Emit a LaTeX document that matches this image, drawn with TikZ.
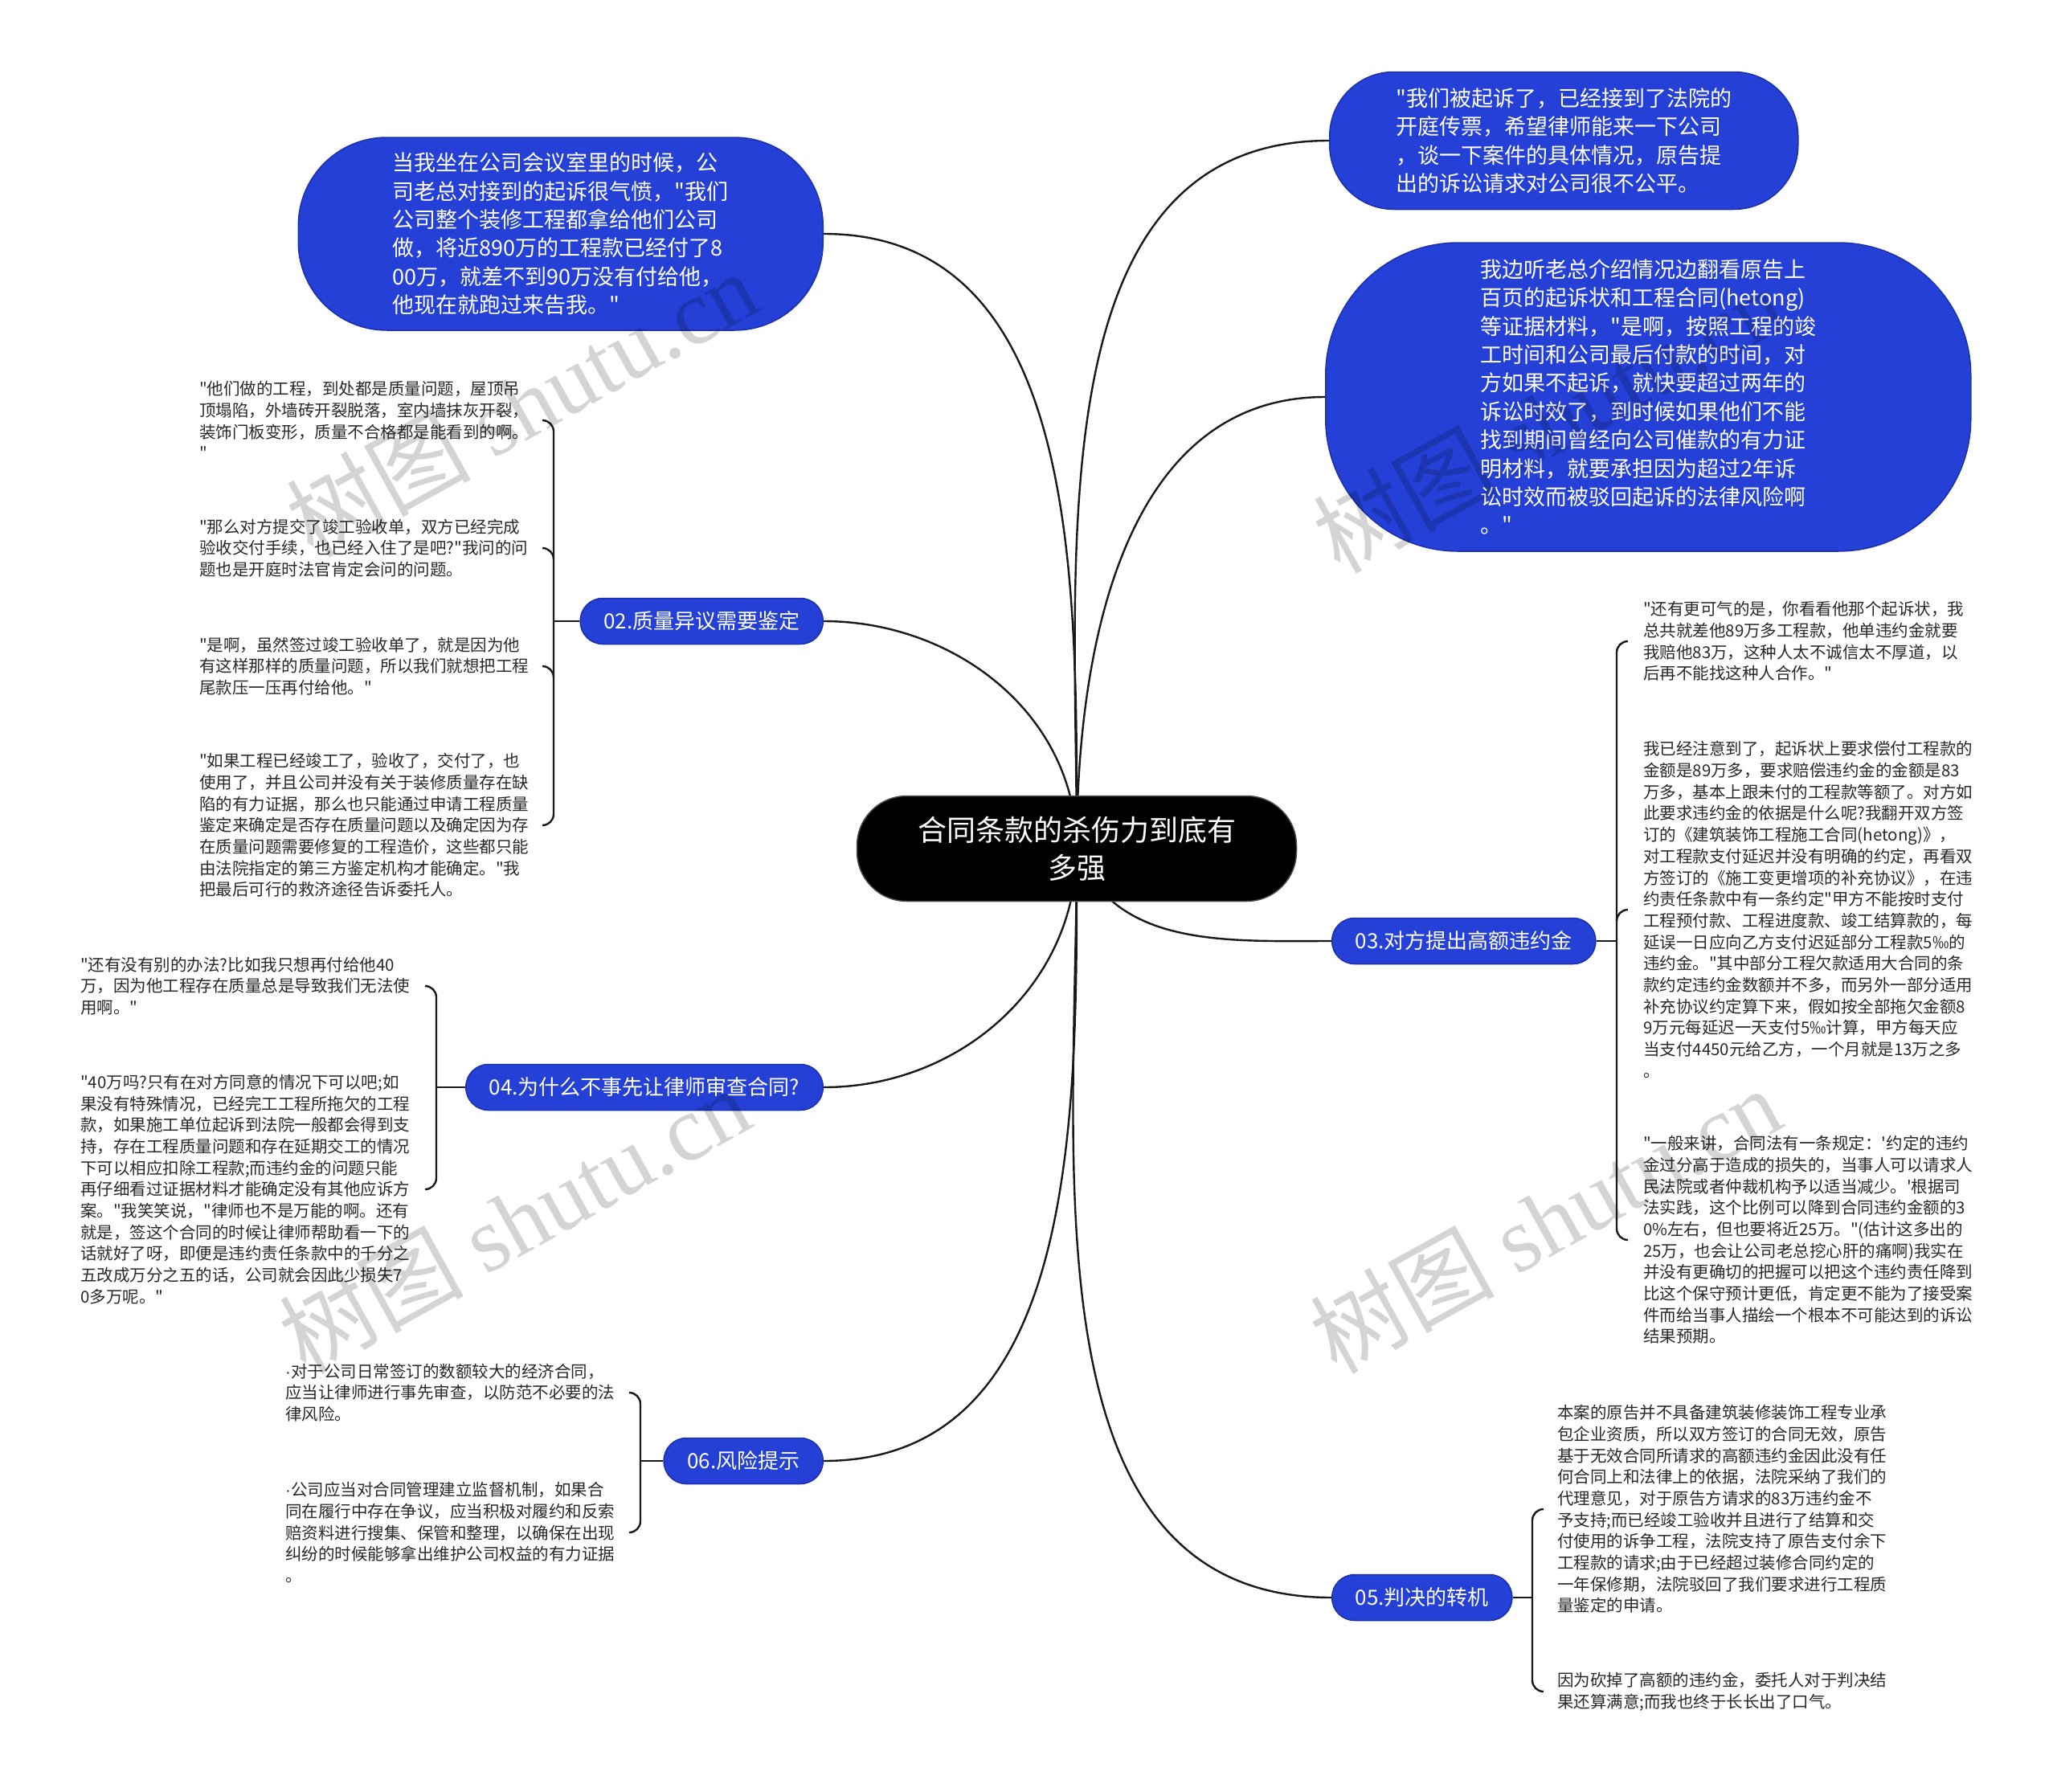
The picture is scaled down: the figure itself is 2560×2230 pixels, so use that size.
\documentclass[tikz,border=0pt]{standalone}
\usepackage{fontspec}
\newfontfamily\cjk{Noto Sans CJK SC}
\newfontfamily\wmserif{Liberation Serif}
\newfontfamily\latinsans{Liberation Sans}
\usetikzlibrary{calc}
\definecolor{nodeblue}{RGB}{36,64,214}
\definecolor{nodeedge}{RGB}{28,48,170}
\definecolor{leafgray}{RGB}{40,40,40}
\pgfdeclarelayer{bg}
\pgfdeclarelayer{fg}
\pgfsetlayers{bg,main,fg}
\begin{document}
\begin{tikzpicture}[x=1pt,y=1pt,
  link/.style={draw=black!90, line width=2.4pt},
  bubble/.style={fill=nodeblue, draw=nodeedge, line width=1.5pt, text=white, align=left,
    font=\cjk\fontsize{27pt}{35.4pt}\selectfont, inner sep=0pt},
  branch/.style={fill=nodeblue, draw=nodeedge, line width=1.5pt, text=white,
    font=\cjk\fontsize{26pt}{32pt}\selectfont, minimum height=57pt, rounded corners=28pt,
    inner xsep=29pt, inner ysep=0pt},
  rootbox/.style={fill=black, draw=black!70, line width=1.5pt, text=white, align=center,
    font=\cjk\fontsize{36pt}{47pt}\selectfont, minimum width=547pt, minimum height=131pt,
    rounded corners=62pt, inner sep=0pt},
  leaf/.style={anchor=west, align=left, inner sep=0pt, text=leafgray,
    font=\cjk\fontsize{20.5pt}{26.7pt}\selectfont},
  wm/.style={text=black, opacity=0.17, rotate=29, inner sep=0pt,
    font=\cjk\fontsize{115pt}{115pt}\selectfont}
]
\useasboundingbox (0,0) rectangle (2560,-2230);
\begin{pgfonlayer}{bg}
\fill[white] (0,0) rectangle (2560,-2230);
\end{pgfonlayer}

% root
\node[rootbox] (root) at (1340,-1056) {合同条款的杀伤力到底有\\多强};

% big bubbles
\node[bubble, anchor=east, minimum width=653pt, minimum height=240pt, rounded corners=110pt] (b1) at (1025,-291)
 {当我坐在公司会议室里的时候，公\\司老总对接到的起诉很气愤，"我们\\公司整个装修工程都拿给他们公司\\做，将近890万的工程款已经付了8\\00万，就差不到90万没有付给他，\\他现在就跑过来告我。"};
\node[bubble, anchor=west, minimum width=583pt, minimum height=171pt, rounded corners=80pt] (b2) at (1654,-175)
 {"我们被起诉了，已经接到了法院的\\开庭传票，希望律师能来一下公司\\，谈一下案件的具体情况，原告提\\出的诉讼请求对公司很不公平。};
\node[bubble, anchor=west, minimum width=803pt, minimum height=384pt, rounded corners=165pt] (b3) at (1649,-494)
 {我边听老总介绍情况边翻看原告上\\百页的起诉状和工程合同(hetong)\\等证据材料，"是啊，按照工程的竣\\工时间和公司最后付款的时间，对\\方如果不起诉，就快要超过两年的\\诉讼时效了，到时候如果他们不能\\找到期间曾经向公司催款的有力证\\明材料，就要承担因为超过2年诉\\讼时效而被驳回起诉的法律风险啊\\。"};

% branch nodes
\node[branch, anchor=east] (n02) at (1025,-773) {02.质量异议需要鉴定};
\node[branch, anchor=east] (n04) at (1025,-1353) {04.为什么不事先让律师审查合同?};
\node[branch, anchor=east] (n06) at (1025,-1818) {06.风险提示};
\node[branch, anchor=west] (n03) at (1657,-1171) {03.对方提出高额违约金};
\node[branch, anchor=west] (n05) at (1657,-1988) {05.判决的转机};

% leaves of 02
\node[leaf] (l21) at (248,-523) {"他们做的工程，到处都是质量问题，屋顶吊\\顶塌陷，外墙砖开裂脱落，室内墙抹灰开裂，\\装饰门板变形，质量不合格都是能看到的啊。\\"};
\node[leaf] (l22) at (248,-682) {"那么对方提交了竣工验收单，双方已经完成\\验收交付手续，也已经入住了是吧?"我问的问\\题也是开庭时法官肯定会问的问题。};
\node[leaf] (l23) at (248,-829) {"是啊，虽然签过竣工验收单了，就是因为他\\有这样那样的质量问题，所以我们就想把工程\\尾款压一压再付给他。"};
\node[leaf] (l24) at (248,-1027) {"如果工程已经竣工了，验收了，交付了，也\\使用了，并且公司并没有关于装修质量存在缺\\陷的有力证据，那么也只能通过申请工程质量\\鉴定来确定是否存在质量问题以及确定因为存\\在质量问题需要修复的工程造价，这些都只能\\由法院指定的第三方鉴定机构才能确定。"我\\把最后可行的救济途径告诉委托人。};

% leaves of 04
\node[leaf] (l41) at (100,-1227) {"还有没有别的办法?比如我只想再付给他40\\万，因为他工程存在质量总是导致我们无法使\\用啊。"};
\node[leaf] (l42) at (100,-1480) {"40万吗?只有在对方同意的情况下可以吧;如\\果没有特殊情况，已经完工工程所拖欠的工程\\款，如果施工单位起诉到法院一般都会得到支\\持，存在工程质量问题和存在延期交工的情况\\下可以相应扣除工程款;而违约金的问题只能\\再仔细看过证据材料才能确定没有其他应诉方\\案。"我笑笑说，"律师也不是万能的啊。还有\\就是，签这个合同的时候让律师帮助看一下的\\话就好了呀，即便是违约责任条款中的千分之\\五改成万分之五的话，公司就会因此少损失7\\0多万呢。"};

% leaves of 06
\node[leaf] (l61) at (355,-1733) {{\latinsans ·}对于公司日常签订的数额较大的经济合同，\\应当让律师进行事先审查，以防范不必要的法\\律风险。};
\node[leaf] (l62) at (355,-1907) {{\latinsans ·}公司应当对合同管理建立监督机制，如果合\\同在履行中存在争议，应当积极对履约和反索\\赔资料进行搜集、保管和整理，以确保在出现\\纠纷的时候能够拿出维护公司权益的有力证据\\。};

% leaves of 03
\node[leaf] (l31) at (2045,-798) {"还有更可气的是，你看看他那个起诉状，我\\总共就差他89万多工程款，他单违约金就要\\我赔他83万，这种人太不诚信太不厚道，以\\后再不能找这种人合作。"};
\node[leaf] (l32) at (2045,-1132) {我已经注意到了，起诉状上要求偿付工程款的\\金额是89万多，要求赔偿违约金的金额是83\\万多，基本上跟未付的工程款等额了。对方如\\此要求违约金的依据是什么呢?我翻开双方签\\订的《建筑装饰工程施工合同(hetong)》，\\对工程款支付延迟并没有明确的约定，再看双\\方签订的《施工变更增项的补充协议》，在违\\约责任条款中有一条约定"甲方不能按时支付\\工程预付款、工程进度款、竣工结算款的，每\\延误一日应向乙方支付迟延部分工程款5‰的\\违约金。"其中部分工程欠款适用大合同的条\\款约定违约金数额并不多，而另外一部分适用\\补充协议约定算下来，假如按全部拖欠金额8\\9万元每延迟一天支付5‰计算，甲方每天应\\当支付4450元给乙方，一个月就是13万之多\\。};
\node[leaf] (l33) at (2045,-1543) {"一般来讲，合同法有一条规定：'约定的违约\\金过分高于造成的损失的，当事人可以请求人\\民法院或者仲裁机构予以适当减少。'根据司\\法实践，这个比例可以降到合同违约金额的3\\0\%左右，但也要将近25万。"(估计这多出的\\25万，也会让公司老总挖心肝的痛啊)我实在\\并没有更确切的把握可以把这个违约责任降到\\比这个保守预计更低，肯定更不能为了接受案\\件而给当事人描绘一个根本不可能达到的诉讼\\结果预期。};

% leaves of 05
\node[leaf] (l51) at (1938,-1878) {本案的原告并不具备建筑装修装饰工程专业承\\包企业资质，所以双方签订的合同无效，原告\\基于无效合同所请求的高额违约金因此没有任\\何合同上和法律上的依据，法院采纳了我们的\\代理意见，对于原告方请求的83万违约金不\\予支持;而已经竣工验收并且进行了结算和交\\付使用的诉争工程，法院支持了原告支付余下\\工程款的请求;由于已经超过装修合同约定的\\一年保修期，法院驳回了我们要求进行工程质\\量鉴定的申请。};
\node[leaf] (l52) at (1938,-2105) {因为砍掉了高额的违约金，委托人对于判决结\\果还算满意;而我也终于长长出了口气。};

% bracket spine coordinates
\coordinate (k02) at (689,-773);
\coordinate (k04) at (543,-1353);
\coordinate (k06) at (797,-1818);
\coordinate (k03) at (2012,-1171);
\coordinate (k05) at (1907,-1988);

\begin{pgfonlayer}{bg}
% main connectors
\draw[link] (root.center) to[out=90,in=0] (b1.east);
\draw[link] (root.center) to[out=90,in=0] (n02.east);
\draw[link] (root.center) to[out=90,in=180] (b2.west);
\draw[link] (root.center) to[out=90,in=180] (b3.west);
\draw[link] (root.center) to[out=-70,in=180] (n03.west);
\draw[link] (root.center) to[out=-90,in=0] (n04.east);
\draw[link] (root.center) to[out=-90,in=0] (n06.east);
\draw[link] (root.center) to[out=-90,in=180] (n05.west);

% bracket 02 (left)
\draw[link] (n02.west) -- (k02);
\draw[link] ($(k02|-l21.west)+(-14,0)$) to[out=0,in=90] ($(k02|-l21.west)+(0,-14)$)
  -- ($(k02|-l24.west)+(0,14)$) to[out=-90,in=0] ($(k02|-l24.west)+(-14,0)$);
\draw[link] ($(k02|-l22.west)+(0,-14)$) to[out=90,in=0] ($(k02|-l22.west)+(-14,0)$);
\draw[link] ($(k02|-l23.west)+(0,-14)$) to[out=90,in=0] ($(k02|-l23.west)+(-14,0)$);

% bracket 04 (left)
\draw[link] (n04.west) -- (k04);
\draw[link] ($(k04|-l41.west)+(-14,0)$) to[out=0,in=90] ($(k04|-l41.west)+(0,-14)$)
  -- ($(k04|-l42.west)+(0,14)$) to[out=-90,in=0] ($(k04|-l42.west)+(-14,0)$);

% bracket 06 (left)
\draw[link] (n06.west) -- (k06);
\draw[link] ($(k06|-l61.west)+(-14,0)$) to[out=0,in=90] ($(k06|-l61.west)+(0,-14)$)
  -- ($(k06|-l62.west)+(0,14)$) to[out=-90,in=0] ($(k06|-l62.west)+(-14,0)$);

% bracket 03 (right)
\draw[link] (n03.east) -- (k03);
\draw[link] ($(k03|-l31.west)+(14,0)$) to[out=180,in=90] ($(k03|-l31.west)+(0,-14)$)
  -- ($(k03|-l33.west)+(0,14)$) to[out=-90,in=180] ($(k03|-l33.west)+(14,0)$);
\draw[link] ($(k03|-l32.west)+(0,-14)$) to[out=90,in=180] ($(k03|-l32.west)+(14,0)$);

% bracket 05 (right)
\draw[link] (n05.east) -- (k05);
\draw[link] ($(k05|-l51.west)+(14,0)$) to[out=180,in=90] ($(k05|-l51.west)+(0,-14)$)
  -- ($(k05|-l52.west)+(0,14)$) to[out=-90,in=180] ($(k05|-l52.west)+(14,0)$);
\end{pgfonlayer}

% watermarks
\begin{pgfonlayer}{fg}
\node[wm] (w1) at (649,-502) {树图 {\wmserif shutu.cn}};
\node[wm] (w2) at (640,-1518) {树图 {\wmserif shutu.cn}};
\node[wm] (w3) at (1927,-522) {树图 {\wmserif shutu.cn}};
\node[wm] (w4) at (1923,-1518) {树图 {\wmserif shutu.cn}};
\end{pgfonlayer}
\end{tikzpicture}
\end{document}
